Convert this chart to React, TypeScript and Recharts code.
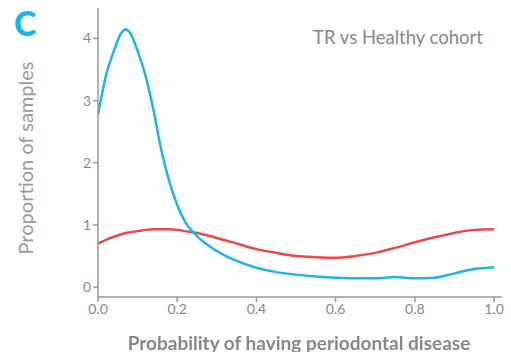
import { LineChart, Line, XAxis, YAxis } from "recharts";

const probability = [
  0, 0.02, 0.04, 0.06, 0.07, 0.08, 0.1, 0.12, 0.14, 0.16, 0.18, 0.2, 0.22,
  0.25, 0.3, 0.35, 0.4, 0.45, 0.5, 0.55, 0.6, 0.65, 0.7, 0.75, 0.8, 0.85, 0.9,
  0.95, 1.0,
];

const trCohort = [
  2.77, 3.4, 3.8, 4.1, 4.15, 4.1, 3.8, 3.4, 2.85, 2.2, 1.7, 1.32, 1.05, 0.82,
  0.58, 0.42, 0.31, 0.24, 0.2, 0.17, 0.15, 0.14, 0.14, 0.16, 0.14, 0.15, 0.22,
  0.29, 0.32,
];

const healthyCohort = [
  0.7, 0.76, 0.81, 0.85, 0.87, 0.88, 0.9, 0.92, 0.93, 0.93, 0.93, 0.92, 0.9,
  0.87, 0.79, 0.7, 0.61, 0.55, 0.5, 0.48, 0.47, 0.5, 0.55, 0.63, 0.72, 0.8,
  0.87, 0.92, 0.93,
];

const xTicks = [0, 0.2, 0.4, 0.6, 0.8, 1.0];
const yTicks = [0, 1, 2, 3, 4];

const data = probability.map((p, i) => ({
  p,
  tr: trCohort[i],
  healthy: healthyCohort[i],
}));

const font = "Lato, 'Open Sans', sans-serif";

export default function App() {
  return (
    <div
      style={{
        position: "fixed",
        top: 0,
        left: 0,
        width: 511,
        height: 352,
        background: "#fff",
        fontFamily: font,
      }}
    >
      <LineChart
        width={511}
        height={352}
        data={data}
        margin={{ top: 8, right: 9, left: 38, bottom: 25 }}
      >
        <XAxis
          dataKey="p"
          type="number"
          domain={[0, 1.02]}
          ticks={xTicks}
          tickFormatter={(v: number) => v.toFixed(1)}
          stroke="#999"
          strokeWidth={1.5}
          tickSize={5}
          tick={{ fill: "#888", fontSize: 14, fontFamily: font }}
          allowDataOverflow
        />
        <YAxis
          type="number"
          domain={[-0.16, 4.49]}
          ticks={yTicks}
          stroke="#999"
          strokeWidth={1.5}
          tickSize={5}
          width={60}
          tick={{ fill: "#888", fontSize: 14, fontFamily: font }}
          allowDataOverflow
        />
        <Line
          type="monotone"
          dataKey="healthy"
          stroke="#e8494a"
          strokeWidth={2.5}
          dot={false}
          isAnimationActive={false}
        />
        <Line
          type="monotone"
          dataKey="tr"
          stroke="#1db5e8"
          strokeWidth={2.5}
          dot={false}
          isAnimationActive={false}
        />
      </LineChart>
      <div
        style={{
          position: "absolute",
          left: 14,
          top: 6,
          fontSize: 34,
          fontWeight: 900,
          color: "#1db5e8",
          lineHeight: 1,
        }}
      >
        C
      </div>
      <div
        style={{
          position: "absolute",
          left: 313,
          top: 26,
          fontSize: 18.5,
          color: "#888",
          whiteSpace: "nowrap",
        }}
      >
        TR vs Healthy cohort
      </div>
      <div
        style={{
          position: "absolute",
          left: 25,
          top: 158,
          transform: "translate(-50%, -50%) rotate(-90deg)",
          fontSize: 20,
          color: "#999",
          whiteSpace: "nowrap",
        }}
      >
        Proportion of samples
      </div>
      <div
        style={{
          position: "absolute",
          left: 299,
          top: 342,
          transform: "translate(-50%, -50%)",
          fontSize: 19,
          fontWeight: 700,
          color: "#888",
          whiteSpace: "nowrap",
        }}
      >
        Probability of having periodontal disease
      </div>
    </div>
  );
}
